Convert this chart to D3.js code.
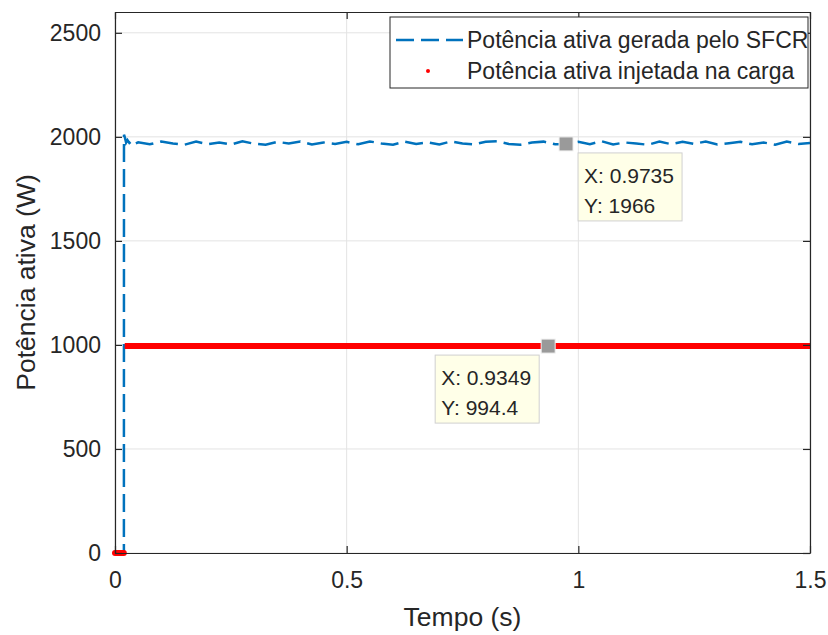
<!DOCTYPE html>
<html>
<head>
<meta charset="utf-8">
<script src="https://d3js.org/d3.v7.min.js"></script>
<style>
body { margin:0; background:#fff; }
text { font-family: "Liberation Sans", Arial, sans-serif; fill:#262626; }
</style>
</head>
<body>
<svg width="828" height="635"></svg>
<script>
// generated power (SFCR) - time in s, power in W
var genTime = [0, 0.0192, 0.0194, 0.0215, 0.024, 0.027, 0.031, 0.036, 0.042, 0.05,
  0.075, 0.1, 0.125, 0.15, 0.175, 0.2, 0.225, 0.25, 0.275, 0.3,
  0.325, 0.35, 0.375, 0.4, 0.425, 0.45, 0.475, 0.5, 0.525, 0.55,
  0.575, 0.6, 0.625, 0.65, 0.675, 0.7, 0.725, 0.75, 0.775, 0.8,
  0.825, 0.85, 0.875, 0.9, 0.925, 0.95, 0.975, 1.0, 1.025, 1.05,
  1.075, 1.1, 1.125, 1.15, 1.175, 1.2, 1.225, 1.25, 1.275, 1.3,
  1.325, 1.35, 1.375, 1.4, 1.425, 1.45, 1.475, 1.5];
var genPower = [0, 0, 2010, 1996, 1972, 1984, 1971, 1980, 1966, 1974,
  1964, 1978, 1968, 1962, 1977, 1965, 1973, 1963, 1979, 1967,
  1962, 1976, 1968, 1978, 1963, 1973, 1966, 1976, 1964, 1978,
  1968, 1962, 1977, 1966, 1974, 1963, 1978, 1968, 1964, 1976,
  1979, 1966, 1962, 1973, 1977, 1964, 1966, 1976, 1965, 1979,
  1963, 1973, 1968, 1962, 1977, 1965, 1976, 1966, 1978, 1963,
  1969, 1976, 1964, 1973, 1962, 1977, 1966, 1970];

// load power - two levels
var loadTime = [0, 0.019, 0.021, 1.5];
var loadPower = [0, 0, 994.4, 994.4];

var xTicks = [0, 0.5, 1, 1.5];
var xTickLabels = ["0", "0.5", "1", "1.5"];
var yTicks = [0, 500, 1000, 1500, 2000, 2500];

var tips = [
  {x: 0.9735, y: 1966, side: "right", label: ["X: 0.9735", "Y: 1966"]},
  {x: 0.9349, y: 994.4, side: "left", label: ["X: 0.9349", "Y: 994.4"]}
];

var legendItems = ["Potência ativa gerada pelo SFCR", "Potência ativa injetada na carga"];

var svg = d3.select("svg");
var L = 115, R = 810, T = 12, B = 553;

var x = d3.scaleLinear().domain([0, 1.5]).range([L, R]);
var y = d3.scaleLinear().domain([0, 2600]).range([B, T]);

var axc = "#262626";

// grid
var grid = svg.append("g");
grid.selectAll(".gx").data(xTicks).enter().append("line")
  .attr("x1", d => x(d)).attr("x2", d => x(d))
  .attr("y1", T).attr("y2", B)
  .attr("stroke", "#e3e3e3").attr("stroke-width", 1);
grid.selectAll(".gy").data(yTicks).enter().append("line")
  .attr("x1", L).attr("x2", R)
  .attr("y1", d => y(d)).attr("y2", d => y(d))
  .attr("stroke", "#e3e3e3").attr("stroke-width", 1);

// data lines
var genLine = d3.line().x((d, i) => x(genTime[i])).y(d => y(d));
svg.append("path")
  .datum(genPower)
  .attr("d", genLine)
  .attr("fill", "none")
  .attr("stroke", "#0072bd")
  .attr("stroke-width", 2.5)
  .attr("stroke-dasharray", "18,7");

var loadPts = loadTime.map((t, i) => [t, loadPower[i]]);
// the load signal is drawn with dense dots: two thick bands without the jump
svg.append("path")
  .attr("d", d3.line().x(d => x(d[0])).y(d => y(d[1]))(loadPts.slice(0, 2)))
  .attr("stroke", "#ff0000").attr("stroke-width", 6).attr("stroke-linecap", "round").attr("fill", "none");
svg.append("path")
  .attr("d", d3.line().x(d => x(d[0])).y(d => y(d[1]))(loadPts.slice(2)))
  .attr("stroke", "#ff0000").attr("stroke-width", 6).attr("fill", "none");

// axes box
var xAx = d3.axisBottom(x).tickValues(xTicks).tickFormat((d, i) => xTickLabels[i]).tickSizeInner(-7).tickSizeOuter(0).tickPadding(22);
var yAx = d3.axisLeft(y).tickValues(yTicks).tickFormat(d3.format("d")).tickSizeInner(-7).tickSizeOuter(0).tickPadding(14);

var gx = svg.append("g").attr("transform", "translate(0," + B + ")").call(xAx);
var gy = svg.append("g").attr("transform", "translate(" + L + ",0)").call(yAx);
var gx2 = svg.append("g").attr("transform", "translate(0," + T + ")")
  .call(d3.axisTop(x).tickValues(xTicks).tickSizeInner(-7).tickSizeOuter(0).tickFormat(""));
var gy2 = svg.append("g").attr("transform", "translate(" + R + ",0)")
  .call(d3.axisRight(y).tickValues(yTicks).tickSizeInner(-7).tickSizeOuter(0).tickFormat(""));
[gx, gy, gx2, gy2].forEach(g => {
  g.select(".domain").attr("stroke", axc).attr("stroke-width", 1.2);
  g.selectAll(".tick line").attr("stroke", axc).attr("stroke-width", 1.2);
  g.selectAll("text").attr("font-size", 23).attr("fill", axc)
    .style("font-family", "'Liberation Sans', Arial, sans-serif");
});
gx.selectAll("text").attr("dy", "0.71em").attr("y", 19);

// axis labels
svg.append("text")
  .attr("x", (L + R) / 2).attr("y", 626)
  .attr("text-anchor", "middle").attr("font-size", 26.5)
  .text("Tempo (s)");
svg.append("text")
  .attr("transform", "translate(35," + ((T + B) / 2) + ") rotate(-90)")
  .attr("text-anchor", "middle").attr("font-size", 26.5)
  .text("Potência ativa (W)");

// data tips
var tipG = svg.append("g");
tips.forEach(function(tp) {
  var cx = x(tp.x), cy = y(tp.y);
  var bw = 104, bh = 68;
  var bx = tp.side === "right" ? cx + 12 : cx - 9 - bw, by = cy + 9;
  tipG.append("rect")
    .attr("x", bx).attr("y", by).attr("width", bw).attr("height", bh)
    .attr("fill", "#ffffe8").attr("stroke", "#d0d0d0").attr("stroke-width", 1);
  tipG.append("text").attr("x", bx + 6).attr("y", by + 30).attr("font-size", 21).attr("fill", "#1a1a1a").text(tp.label[0]);
  tipG.append("text").attr("x", bx + 6).attr("y", by + 60).attr("font-size", 21).attr("fill", "#1a1a1a").text(tp.label[1]);
  tipG.append("rect")
    .attr("x", cx - 7).attr("y", cy - 7).attr("width", 14).attr("height", 14)
    .attr("fill", "#9a9a9a").attr("stroke", "#f0f0f0").attr("stroke-width", 1);
});

// legend
var lg = svg.append("g").attr("transform", "translate(390,17)");
lg.append("rect").attr("width", 418).attr("height", 71)
  .attr("fill", "#fff").attr("stroke", axc).attr("stroke-width", 1);
lg.append("line").attr("x1", 6).attr("x2", 73).attr("y1", 23).attr("y2", 23)
  .attr("stroke", "#0072bd").attr("stroke-width", 2.5).attr("stroke-dasharray", "18,7");
lg.append("circle").attr("cx", 38).attr("cy", 54).attr("r", 2).attr("fill", "#ff0000");
lg.selectAll(".lt").data(legendItems).enter().append("text")
  .attr("x", 77).attr("y", (d, i) => 31 + i * 31)
  .attr("font-size", 23).attr("fill", "#000")
  .text(d => d);
</script>
</body>
</html>
